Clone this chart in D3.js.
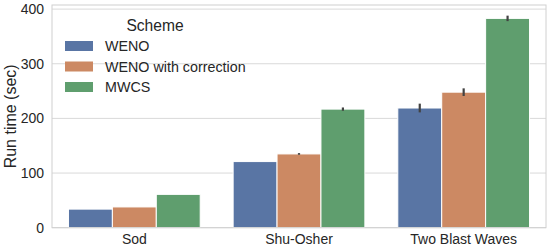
<!DOCTYPE html>
<html>
<head>
<meta charset="utf-8">
<script src="https://cdn.jsdelivr.net/npm/d3@7"></script>
<style>
  body { margin: 0; background: #fff; }
  text { font-family: Arial, "Liberation Sans", sans-serif; fill: #262626; }
</style>
</head>
<body>
<svg id="chart" width="550" height="250"></svg>
<script>
// Data
const categories = ["Sod", "Shu-Osher", "Two Blast Waves"];
const schemes = ["WENO", "WENO with correction", "MWCS"];
const colors = ["#5975a4", "#cc8963", "#5f9e6e"];
const weno = [34, 121, 219];
const wenoCorr = [38, 135, 248];
const mwcs = [61, 217, 383];
// half length of the error bars
const wenoErr = [0, 0, 8];
const wenoCorrErr = [0, 1.5, 7];
const mwcsErr = [0, 3, 5];
const yTicks = [0, 100, 200, 300, 400];

const values = [weno, wenoCorr, mwcs];
const errs = [wenoErr, wenoCorrErr, mwcsErr];

const margin = {top: 5, right: 4, bottom: 22, left: 52};
const width = 550, height = 250;

const svg = d3.select("#chart");

// Scales
const x = d3.scaleBand()
    .domain(categories)
    .range([margin.left, width - margin.right])
    .padding(0);
const x1 = d3.scaleBand()
    .domain(schemes)
    .range([0, x.bandwidth() * 0.8]);
const y = d3.scaleLinear()
    .domain([0, 407.5])
    .range([height - margin.bottom - 0.3, margin.top]);

// Grid lines
svg.append("g")
    .selectAll("line")
    .data(yTicks)
    .join("line")
    .attr("x1", margin.left)
    .attr("x2", width - margin.right)
    .attr("y1", d => y(d))
    .attr("y2", d => y(d))
    .attr("stroke", "#d9d9d9")
    .attr("stroke-width", 1);

// Bars
const rows = [];
categories.forEach((c, i) => {
    schemes.forEach((s, j) => {
        rows.push({cat: c, scheme: s, j: j, v: values[j][i], e: errs[j][i]});
    });
});

svg.append("g")
    .selectAll("rect")
    .data(rows)
    .join("rect")
    .attr("x", d => x(d.cat) + x.bandwidth() * 0.1 + x1(d.scheme))
    .attr("width", x1.bandwidth())
    .attr("y", d => y(d.v))
    .attr("height", d => y(0) - y(d.v))
    .attr("fill", d => colors[d.j])
    .attr("stroke", "#fff")
    .attr("stroke-width", 1);

// Error bars
svg.append("g")
    .selectAll("line")
    .data(rows.filter(d => d.e > 0))
    .join("line")
    .attr("x1", d => x(d.cat) + x.bandwidth() * 0.1 + x1(d.scheme) + x1.bandwidth() / 2)
    .attr("x2", d => x(d.cat) + x.bandwidth() * 0.1 + x1(d.scheme) + x1.bandwidth() / 2)
    .attr("y1", d => y(d.v - d.e))
    .attr("y2", d => y(d.v + d.e))
    .attr("stroke", "#424242")
    .attr("stroke-width", 2.2);

// Frame (all four spines)
svg.append("rect")
    .attr("x", margin.left)
    .attr("y", margin.top)
    .attr("width", width - margin.right - margin.left)
    .attr("height", y(0) - margin.top)
    .attr("fill", "none")
    .attr("stroke", "#d0d0d0")
    .attr("stroke-width", 1);

// Axes
const yAxis = d3.axisLeft(y).tickValues(yTicks).tickSize(0).tickPadding(8);
svg.append("g")
    .attr("transform", `translate(${margin.left},0)`)
    .call(yAxis)
    .call(g => g.select(".domain").remove())
    .selectAll("text")
    .style("font-size", "14px")
    .style("fill", "#262626");

const xAxis = d3.axisBottom(x).tickSize(0).tickPadding(6);
svg.append("g")
    .attr("transform", `translate(0,${y(0)})`)
    .call(xAxis)
    .call(g => g.select(".domain").remove())
    .selectAll("text")
    .style("font-size", "14px")
    .style("fill", "#262626");

// Y label
svg.append("text")
    .attr("transform", `translate(16,${(margin.top + y(0)) / 2}) rotate(-90)`)
    .attr("text-anchor", "middle")
    .style("font-size", "16px")
    .text("Run time (sec)");

// Legend
const legend = svg.append("g").attr("transform", "translate(65,0)");
legend.append("text")
    .attr("x", 90)
    .attr("y", 31)
    .attr("text-anchor", "middle")
    .style("font-size", "15.6px")
    .text("Scheme");
schemes.forEach((s, j) => {
    const yy = 46 + j * 20.5;
    legend.append("rect")
        .attr("x", 0)
        .attr("y", yy - 5)
        .attr("width", 28)
        .attr("height", 10)
        .attr("fill", colors[j]);
    legend.append("text")
        .attr("x", 40)
        .attr("y", yy + 5)
        .style("font-size", "14.3px")
        .text(s);
});
</script>
</body>
</html>
